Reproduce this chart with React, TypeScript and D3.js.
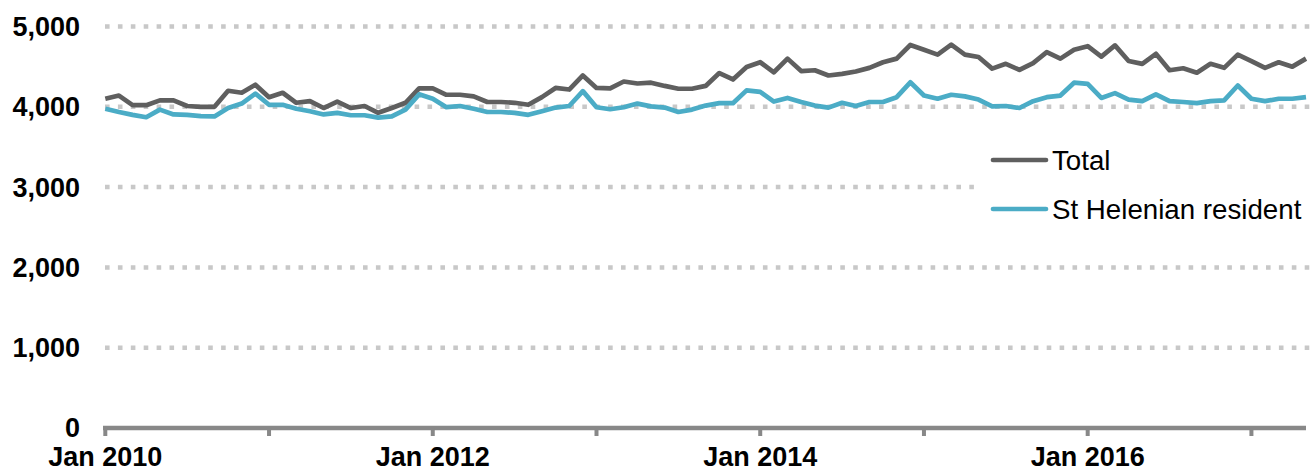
import { useEffect } from 'react';
import * as d3 from 'd3';

const START_YEAR = 2010;

// monthly values, Jan 2010 .. May 2017
const TOTAL = [
  4100, 4140, 4020, 4020, 4080, 4080, 4010, 4000, 4000, 4200, 4175, 4275,
  4120, 4175, 4050, 4070, 3985, 4065, 3985, 4010, 3925, 3985, 4050, 4230,
  4230, 4150, 4150, 4130, 4060, 4060, 4050, 4025, 4120, 4235, 4215, 4390,
  4235, 4230, 4315, 4290, 4300, 4260, 4225, 4225, 4260, 4420, 4340, 4495,
  4555, 4430, 4600, 4445, 4455, 4390, 4410, 4440, 4485, 4555, 4600, 4770,
  4710, 4650, 4775, 4650, 4620, 4475, 4535, 4460, 4545, 4680, 4600, 4710,
  4755, 4625, 4765, 4570, 4535, 4660, 4455, 4480, 4425, 4535, 4485, 4650,
  4570, 4485, 4555, 4500, 4600,
];

const ST_HELENIAN = [
  3975, 3935, 3900, 3870, 3965, 3905, 3900, 3885, 3880, 3985, 4040, 4165,
  4025, 4025, 3975, 3945, 3905, 3925, 3895, 3895, 3865, 3880, 3965, 4155,
  4100, 3995, 4010, 3975, 3935, 3935, 3925, 3900, 3945, 3990, 4010, 4195,
  3995, 3970, 3995, 4040, 4005, 3990, 3935, 3965, 4015, 4045, 4045, 4205,
  4185, 4065, 4110, 4060, 4015, 3990, 4050, 4010, 4060, 4060, 4120, 4305,
  4140, 4100, 4150, 4130, 4090, 4005, 4010, 3985, 4070, 4120, 4140, 4300,
  4285, 4110, 4170, 4090, 4070, 4155, 4070, 4060, 4045, 4070, 4080, 4265,
  4100, 4070, 4100, 4100, 4120,
];

const Y_TICKS = [0, 1000, 2000, 3000, 4000, 5000];
const YEAR_TICKS = [0, 12, 24, 36, 48, 60, 72, 84];
const YEAR_LABELS = [0, 24, 48, 72];

const SERIES = [
  { name: 'Total', values: TOTAL, color: '#5f5f5f' },
  { name: 'St Helenian resident', values: ST_HELENIAN, color: '#4bacc6' },
];

const W = 1315;
const H = 472;
const FONT = '"Liberation Sans", Arial, sans-serif';

export default function App() {
  useEffect(() => {
    document.body.style.margin = '0';
  }, []);

  const x = d3.scaleLinear().domain([0, TOTAL.length - 1]).range([105.3, 1306]);
  const y = d3.scaleLinear().domain([0, 5000]).range([428, 26.5]);
  const line = d3
    .line<number>()
    .x((_, i) => x(i))
    .y((d) => y(d));

  return (
    <svg width={W} height={H} style={{ display: 'block', background: '#fff' }}>
      {/* gridlines */}
      {Y_TICKS.filter((t) => t > 0).map((t) => (
        <line
          key={t}
          x1={105}
          x2={1312}
          y1={y(t)}
          y2={y(t)}
          stroke="#c8c8c8"
          strokeWidth={4.5}
          strokeDasharray="4.6,8.3"
        />
      ))}
      {/* y labels */}
      {Y_TICKS.map((t) => (
        <text
          key={t}
          x={80}
          y={y(t)}
          dy="0.35em"
          textAnchor="end"
          fontFamily={FONT}
          fontWeight="bold"
          fontSize={27}
          fill="#000"
        >
          {d3.format(',')(t)}
        </text>
      ))}
      {/* legend backdrop */}
      <rect x={982} y={140} width={333} height={92} fill="#fff" />
      {/* series */}
      {SERIES.map((s) => (
        <path
          key={s.name}
          d={line(s.values) ?? ''}
          fill="none"
          stroke={s.color}
          strokeWidth={4.7}
          strokeLinejoin="round"
        />
      ))}
      {/* x axis */}
      <line x1={103} x2={1306} y1={428} y2={428} stroke="#888" strokeWidth={4.5} />
      {YEAR_TICKS.map((m) => (
        <line key={m} x1={x(m)} x2={x(m)} y1={428} y2={436} stroke="#888" strokeWidth={4} />
      ))}
      {YEAR_LABELS.map((m) => (
        <text
          key={m}
          x={x(m)}
          y={466}
          textAnchor="middle"
          fontFamily={FONT}
          fontWeight="bold"
          fontSize={27}
          fill="#000"
        >
          {`Jan ${START_YEAR + m / 12}`}
        </text>
      ))}
      {/* legend */}
      {SERIES.map((s, i) => (
        <g key={s.name} transform={`translate(0,${160 + i * 49})`}>
          <line x1={993} x2={1046} y1={0} y2={0} stroke={s.color} strokeWidth={4.7} strokeLinecap="round" />
          <text x={1052} y={0} dy="0.35em" fontFamily={FONT} fontSize={27.7} fill="#000">
            {s.name}
          </text>
        </g>
      ))}
    </svg>
  );
}
